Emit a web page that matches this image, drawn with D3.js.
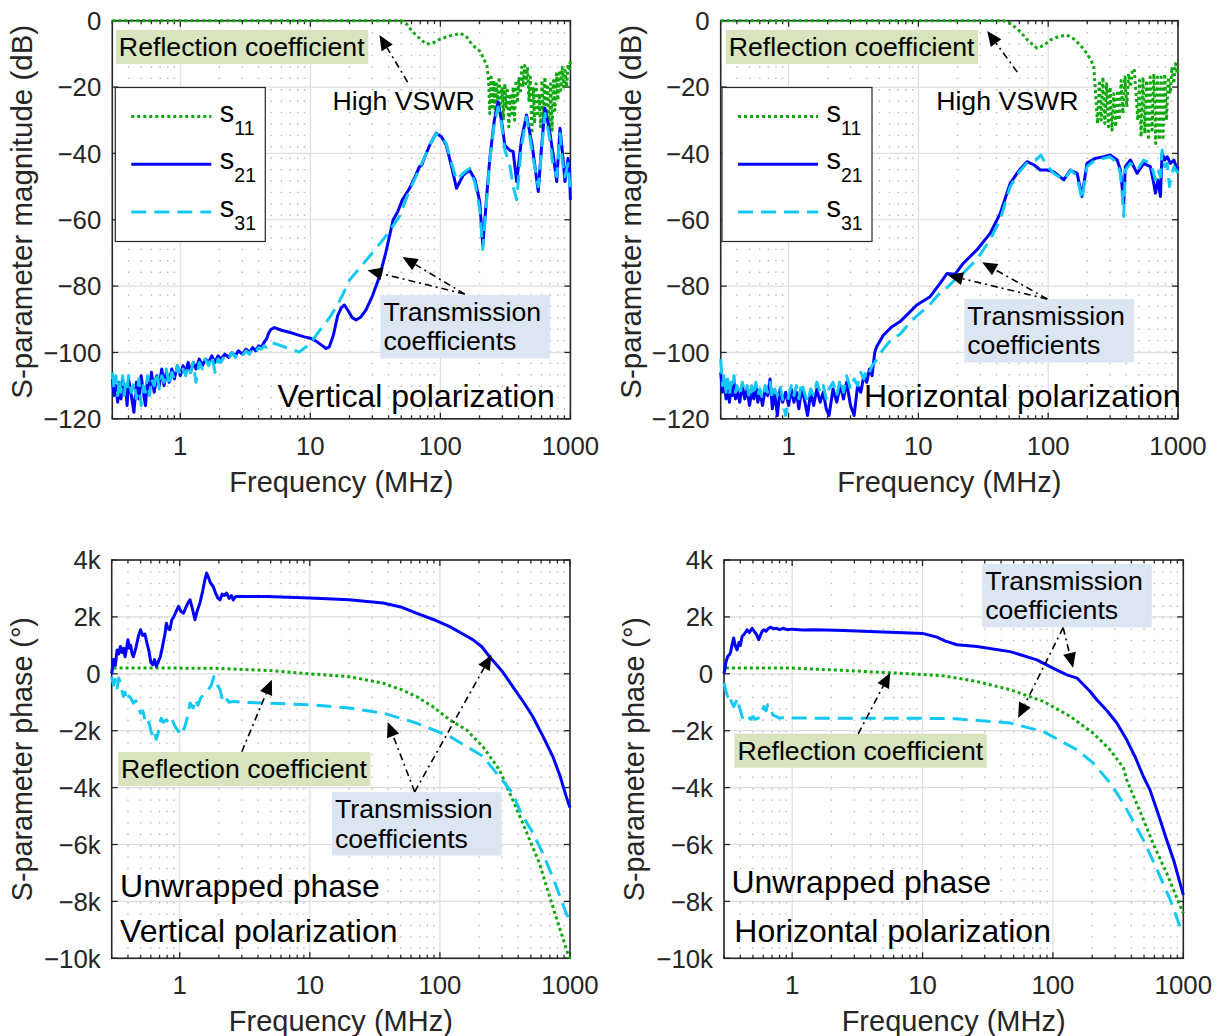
<!DOCTYPE html>
<html><head><meta charset="utf-8">
<script src="https://cdn.jsdelivr.net/npm/d3@7"></script>
<style>
body{margin:0;background:#fff}
svg{display:block;font-family:"Liberation Sans",Arial,Helvetica,sans-serif}
</style>
</head><body>
<svg id="c" width="1223" height="1036"></svg>
<script>
// ---------------- DATA ----------------
const freqTicks = [1, 10, 100, 1000];
const freqTickLabels = ["1", "10", "100", "1000"];
const magTicks = [0, -20, -40, -60, -80, -100, -120];
const magTickLabels = ["0", "\u221220", "\u221240", "\u221260", "\u221280", "\u2212100", "\u2212120"];
const phaseTicks = [4000, 2000, 0, -2000, -4000, -6000, -8000, -10000];
const phaseTickLabels = ["4k", "2k", "0", "\u22122k", "\u22124k", "\u22126k", "\u22128k", "\u221210k"];
const seriesNames = ["s11", "s21", "s31"];

// shared frequency grid (MHz) of the noisy low-frequency part of the magnitude plots
const noiseFreq = [0.30,0.31,0.32,0.33,0.34,0.35,0.36,0.37,0.38,0.39,0.40,
  0.42,0.44,0.46,0.48,0.50,0.52,0.54,0.56,0.58,0.60,
  0.63,0.66,0.69,0.72,0.75,0.78,
  0.82,0.86,0.90,0.95,
  1.0,1.05,1.1,1.15,1.2,1.26,1.32,1.4,1.48,1.56,1.65,1.75,1.85,1.95,
  2.05,2.2,2.35,2.5,2.65,2.8,
  3.0,3.2,3.4,3.6,3.8,4.0,4.2,4.4];

// Vertical polarization, magnitude (dB)
const vMagS21Noise = [-108,-113,-110,-115,-109,-114,-108,-112,-110,-116,-108,
  -113,-118,-109,-114,-107,-112,-116,-108,-111,-106,
  -112,-107,-110,-105,-110,-106,
  -109,-105,-108,-104,
  -107,-104,-106,-103,-106,-103,-105,-102,-104,-102,-103,-101,-103,-101,
  -102,-100.5,-101.5,-100,-101,-99.5,
  -100.5,-99,-100,-98.5,-99.5,-98,-98.5,-97];
const vMagS21Tail = [[4.6,-96],[4.8,-94],[5.0,-93],[5.3,-92.5],[6,-93.3],[7,-94],[8,-94.7],[9,-95.3],[10,-95.7],[11,-96.5],[12.2,-97.8],[13.2,-98.8],[14,-98.3],[15,-95],[16.2,-89],[17.3,-86.5],[18.3,-85.7],[19.6,-87.5],[21,-89.5],[22.5,-90.2],[24.5,-89.3],[26.8,-87.2],[30,-83],[34,-77.2],[38,-70],[43.3,-60.1],[47,-57.6],[51,-54],[58,-50.5],[64,-47],[69,-44],[72,-43.5],[76,-41],[84,-37],[93,-33.9],[102,-35],[111,-37.5],[122,-44],[133,-50.5],[150,-46.5],[168,-45],[185,-48],[201,-54.6],[212,-67.7],[225,-55],[240,-41.5],[260,-30],[278,-24.4],[295,-30],[313,-37.5],[340,-39],[363,-39.5],[386,-48.5],[420,-36],[460,-28.4],[510,-38],[566,-51.5],[600,-38],[637,-26.4],[690,-33],[738,-40.5],[785,-48.5],[832,-32.4],[870,-40],[908,-48.5],[959,-41.5],[985,-45],[1000,-54]];
const vMagS31Noise = [-106,-111,-107,-113,-108,-112,-107,-113,-109,-111,-107,
  -112,-109,-114,-108,-116,-110,-112,-107,-113,-108,
  -110,-106,-111,-107,-109,-105,
  -110,-106,-108,-104,
  -107,-105,-107,-104,-106,-103,-109,-103,-105,-102,-104,-101,-106,-102,
  -103,-101,-102,-100,-101.5,-100,
  -101,-99.5,-100.5,-99,-100,-98.5,-99,-98];
const vMagS31Tail = [[4.6,-98.5],[5.0,-97],[5.5,-97.5],[6.5,-98.5],[8.2,-99.9],[9.5,-98],[10.4,-96.3],[12,-93],[14,-89.6],[16,-86],[17.7,-82.7],[20,-78.2],[24,-74.5],[30,-70],[38,-65],[48.5,-59],[58,-51],[64,-47.5],[69,-44.5],[76,-41],[84,-37],[93,-34],[102,-35],[111,-37],[122,-43],[133,-48],[150,-46],[168,-44.5],[185,-49],[201,-57],[212,-69],[225,-56],[240,-42],[260,-31],[278,-26],[295,-31],[313,-39],[340,-43],[363,-50],[386,-54],[420,-38],[460,-29],[510,-40],[566,-50],[600,-39],[637,-28],[690,-35],[738,-44],[785,-47],[832,-34],[870,-43],[908,-47],[959,-43],[1000,-52]];
const vMagS11 = [[0.3,0],[50,0],[55,-1],[61,-3.3],[70,-5.5],[78,-7.1],[90,-6.5],[100,-5.5],[120,-4.5],[143,-3.8],[160,-5],[170,-6.5],[185,-8],[203,-9.3],[215,-11.5],[228,-13.4],
  [235,-18],[240,-28],[246,-17],[252,-26],[258,-18],[264,-28],[270,-19],[276,-24],[283,-17],[290,-25],[298,-20],[305,-30],[313,-19],[320,-26],[328,-21],[336,-32],[345,-22],[354,-28],[363,-20],[372,-30],[382,-18],[392,-24],[402,-17],[412,-22],[422,-14],[433,-20],[445,-13.5],[456,-19],[468,-14],[480,-24],[492,-17],[505,-34],[518,-20],[531,-31],[545,-19],[560,-28],[575,-22],[590,-32],[605,-18],[620,-30],[637,-17],[653,-28],[670,-20],[688,-35],[705,-19],[723,-33],[742,-18],[761,-27],[781,-16],[801,-24],[822,-15],[843,-21],[865,-14],[888,-20],[911,-15],[935,-20],[959,-13],[984,-15],[1000,-12]];

// Horizontal polarization, magnitude (dB)
const hMagS21Noise = [-106,-112,-109,-114,-110,-115,-111,-113,-109,-114,-111,
  -115,-110,-114,-111,-116,-112,-114,-110,-115,-112,
  -116,-111,-113,-108,-117,-112,
  -119,-111,-115,-112,
  -116,-111,-115,-112,-117,-111,-114,-119,-112,-116,-111,-115,-112,-117,
  -119,-111,-115,-110,-114,-109,
  -116,-119,-110,-112,-107,-109,-105,-107];
const hMagS21Tail = [[4.61,-100],[4.77,-98.3],[5.37,-94.8],[6.23,-92.3],[7.23,-90.7],[8.5,-88],[9.72,-85.7],[12.3,-83.2],[14.7,-79.2],[16.6,-76.2],[19.2,-76.4],[22.2,-73.1],[28.2,-69.1],[35.7,-64.1],[42.7,-58.1],[51,-49],[60,-45],[68.6,-42.5],[78,-43.5],[86.9,-45],[98,-45],[110,-45.5],[132,-48],[148,-45],[167,-46],[182,-53],[199,-43],[230,-41.5],[268,-41],[300,-40.5],[340,-42],[360,-45],[371,-50],[382,-55],[393,-44],[430,-42],[484,-46],[544,-43],[613,-44],[650,-49],[670,-52],[700,-48],[733,-53],[745,-45],[755,-40],[790,-42],[826,-41],[875,-43],[930,-42],[986,-45],[1000,-44]];
const hMagS31Noise = [-102,-110,-106,-112,-108,-113,-109,-111,-107,-112,-110,
  -113,-109,-112,-110,-114,-110,-113,-109,-113,-111,
  -114,-110,-112,-109,-114,-111,
  -113,-110,-114,-119,
  -113,-110,-113,-110,-114,-109,-112,-115,-111,-113,-109,-112,-110,-114,
  -111,-109,-113,-108,-112,-107,
  -111,-108,-110,-106,-108,-105,-106,-104];
const hMagS31Tail = [[4.61,-103],[5.37,-99],[6.23,-96],[7.23,-94.5],[8.6,-91],[9.72,-89],[12,-86],[14.7,-82],[16.6,-80.5],[19.2,-78],[22.2,-76],[28.2,-72],[35.7,-66],[42.7,-60],[51,-50],[60,-45.5],[70,-42.5],[80,-42],[88,-40.5],[95,-43],[110,-46],[132,-48],[150,-45],[167,-47],[182,-54],[199,-44],[230,-42],[268,-41.5],[300,-41],[340,-43],[360,-46],[371,-52],[382,-59],[393,-45],[430,-43],[484,-45],[544,-42],[613,-43],[650,-46],[670,-48],[700,-45],[733,-47],[755,-39],[790,-44],[826,-43],[860,-50],[875,-48],[930,-44],[1000,-46]];
const hMagS11 = [[0.3,0],[45,0],[52,-1],[61,-3.3],[70,-6],[82,-8.3],[92,-7.5],[104,-5.8],[120,-4.8],[139,-4.3],[158,-5.5],[176,-7.3],[200,-10],[224,-13.4],
  [232,-22],[240,-31],[248,-18],[256,-30],[264,-17],[273,-31],[282,-19],[291,-32],[300,-20],[310,-33],[320,-22],[331,-32],[342,-21],[353,-30],[365,-18],[377,-28],[390,-17],[403,-26],[416,-16],[430,-20],[445,-15],[460,-14.5],[475,-22],[490,-30],[505,-18],[520,-35],[537,-17],[555,-34],[573,-18],[592,-36],[611,-17],[631,-33],[652,-16],[673,-37],[695,-17],[718,-36],[741,-17],[765,-36],[790,-16],[815,-30],[842,-17],[870,-22],[898,-14],[927,-19],[957,-13],[988,-16],[1000,-14]];

// Vertical polarization, unwrapped phase (degrees)
const vPhS21 = [[0.30,0],[0.31,500],[0.32,300],[0.33,840],[0.34,700],[0.35,960],[0.36,750],[0.37,900],[0.38,600],[0.39,900],[0.40,1200],[0.41,900],[0.42,1000],[0.43,700],[0.44,600],[0.46,900],[0.48,1300],[0.50,1550],[0.52,1350],[0.54,1400],[0.56,1080],[0.58,800],[0.60,400],[0.62,320],[0.64,500],[0.66,260],[0.68,400],[0.71,600],[0.74,1000],[0.77,1400],[0.79,1780],[0.81,1600],[0.84,1550],[0.87,1900],[0.90,2000],[0.94,2200],[0.98,2370],[1.02,2200],[1.07,2130],[1.12,2350],[1.16,2500],[1.20,2600],[1.25,2300],[1.31,1900],[1.36,2200],[1.43,2490],[1.50,2900],[1.56,3300],[1.61,3540],[1.66,3400],[1.72,3200],[1.81,3070],[1.90,2800],[1.97,2650],[2.04,2600],[2.12,2800],[2.2,2750],[2.29,2840],[2.4,2650],[2.5,2750],[2.58,2600],[2.7,2720],[2.9,2720],[3.5,2720],[4.65,2720],[10,2660],[20,2600],[36.6,2490],[50,2350],[65.9,2130],[90,1900],[119,1660],[150,1400],[179,1200],[210,950],[241,600],[300,100],[363,-450],[440,-1000],[517,-1500],[620,-2200],[737,-2900],[840,-3600],[933,-4300],[1000,-4700]];
const vPhS11 = [[0.31,200],[1,200],[2,190],[4.65,120],[10,0],[20,-100],[36.6,-330],[50,-550],[66,-800],[88,-1150],[119,-1620],[160,-1970],[214,-2560],[287,-3380],[363,-4430],[433,-5250],[582,-6660],[737,-8180],[960,-9820],[1000,-10000]];
const vPhS31 = [[0.30,-100],[0.31,-400],[0.32,-200],[0.33,-500],[0.34,-150],[0.35,-300],[0.36,-600],[0.37,-800],[0.38,-650],[0.39,-900],[0.40,-750],[0.42,-850],[0.44,-1030],[0.46,-950],[0.48,-1200],[0.50,-1380],[0.52,-1300],[0.54,-1600],[0.56,-1800],[0.58,-1700],[0.60,-2000],[0.62,-2200],[0.64,-2050],[0.66,-2300],[0.68,-2100],[0.70,-1900],[0.72,-1560],[0.75,-1700],[0.79,-1620],[0.83,-1750],[0.87,-1600],[0.92,-1850],[0.98,-2030],[1.03,-1800],[1.08,-1950],[1.15,-1500],[1.20,-1030],[1.27,-1200],[1.32,-900],[1.38,-1100],[1.45,-850],[1.55,-700],[1.66,-560],[1.75,-400],[1.83,-100],[1.9,-300],[2.04,-560],[2.15,-970],[2.25,-850],[2.4,-1000],[2.58,-970],[3.0,-1000],[4.65,-1030],[10,-1090],[20,-1200],[36.6,-1380],[66,-1730],[119,-2200],[214,-2900],[363,-4200],[420,-4900],[520,-5600],[617,-6300],[760,-7300],[933,-8420],[1000,-8650]];

// Horizontal polarization, unwrapped phase (degrees)
const hPhS21 = [[0.30,0],[0.31,400],[0.32,600],[0.336,730],[0.345,1000],[0.356,1260],[0.365,1000],[0.378,840],[0.39,1100],[0.40,1000],[0.413,1310],[0.43,1400],[0.451,1550],[0.47,1450],[0.493,1600],[0.51,1500],[0.53,1400],[0.554,1200],[0.57,1350],[0.59,1500],[0.605,1550],[0.63,1500],[0.66,1600],[0.681,1640],[0.72,1580],[0.76,1600],[0.8,1550],[0.85,1600],[0.914,1550],[1.0,1570],[1.2,1540],[1.5,1550],[2.48,1520],[5,1470],[8.05,1430],[10,1420],[12.9,1290],[15,1150],[18.4,1020],[26.1,960],[47,780],[75.3,490],[100,200],[128,-40],[153,-150],[193,-620],[217,-910],[260,-1300],[309,-1730],[368,-2320],[430,-2950],[494,-3610],[555,-4080],[650,-5000],[746,-5840],[850,-6600],[944,-7360],[1000,-7770]];
const hPhS11 = [[0.31,200],[1,200],[2.48,120],[8.05,0],[14.5,-70],[26,-270],[47,-560],[84.5,-970],[136,-1500],[204,-2090],[275,-2680],[347,-3300],[368,-3730],[472,-4900],[600,-6070],[746,-7010],[1000,-8420]];
const hPhS31 = [[0.30,-330],[0.31,-600],[0.32,-800],[0.33,-700],[0.34,-950],[0.356,-1150],[0.37,-1000],[0.378,-860],[0.39,-1100],[0.40,-1270],[0.42,-1620],[0.44,-1550],[0.46,-1500],[0.48,-1600],[0.50,-1500],[0.52,-1600],[0.55,-1560],[0.58,-1400],[0.605,-1150],[0.63,-1300],[0.65,-1090],[0.68,-1200],[0.71,-1440],[0.75,-1500],[0.8,-1560],[0.9,-1520],[1.0,-1550],[1.5,-1560],[3,-1560],[8,-1560],[18,-1580],[47,-1730],[84.5,-2030],[153,-2670],[204,-3140],[275,-3840],[347,-4550],[494,-5840],[630,-6890],[795,-7950],[944,-8890],[1000,-9050]];

// ---------------- BUILD ----------------
const join = (freqs, vals, tail) => freqs.map((f, i) => [f, vals[i]]).concat(tail);
const vMagS21 = join(noiseFreq, vMagS21Noise, vMagS21Tail);
const vMagS31 = join(noiseFreq, vMagS31Noise, vMagS31Tail);
const hMagS21 = join(noiseFreq, hMagS21Noise, hMagS21Tail);
const hMagS31 = join(noiseFreq, hMagS31Noise, hMagS31Tail);

const COL = {s11: "#0ea80e", s21: "#0000ff", s31: "#14c8f6"};
const DASH = {s11: "3,3", s21: null, s31: "15,8"};
const AX = "#262626";
const ANN = 26.7;

const panels = [
  {L:112.3, R:570.4, T:20.7, B:418.8, kind:"mag", data:{s11:vMagS11, s21:vMagS21, s31:vMagS31},
   ylabel:"S-parameter magnitude (dB)", ylabelSize:29.5, ylabelShift:-8, legend:{x:115.3, y:87.5},
   boxes:[{lines:["Reflection coefficient"], f:0.337, v:-10.6, fill:"#d7e4bd", padR:3},
          {lines:["Transmission","coefficients"], f:36.5, v:-90.5, fill:"#dce6f2", padR:9}],
   texts:[{t:"High VSWR", f:14.8, v:-26.9, size:ANN, anchor:"start"},
          {t:"Vertical polarization", f:760, v:-116.5, size:32, anchor:"end"}],
   arrows:[{f0:56, v0:-18.5, f1:34, v1:-4.3},
           {f0:154, v0:-82.4, f1:27.5, v1:-75.2},
           {f0:154, v0:-82.4, f1:51.2, v1:-71.2}]},
  {L:720.7, R:1178, T:20.7, B:418.8, kind:"mag", data:{s11:hMagS11, s21:hMagS21, s31:hMagS31},
   ylabel:"S-parameter magnitude (dB)", ylabelSize:29.5, ylabelShift:-8, legend:{x:722, y:87.5},
   boxes:[{lines:["Reflection coefficient"], f:0.346, v:-10.6, fill:"#d7e4bd", padR:3},
          {lines:["Transmission","coefficients"], f:23.8, v:-91.7, fill:"#dce6f2", padR:9}],
   texts:[{t:"High VSWR", f:13.7, v:-26.9, size:ANN, anchor:"start"},
          {t:"Horizontal polarization", f:3.81, v:-116.5, size:32, anchor:"start"}],
   arrows:[{f0:57.8, v0:-15.5, f1:33.9, v1:-3.1},
           {f0:98.4, v0:-83.9, f1:16.9, v1:-76.7},
           {f0:98.4, v0:-83.9, f1:31.0, v1:-72.8}]},
  {L:111.7, R:570, T:560, B:958.3, kind:"phase", data:{s11:vPhS11, s21:vPhS21, s31:vPhS31},
   ylabel:"S-parameter phase (\u00b0)", ylabelSize:28.7, ylabelShift:0,
   boxes:[{lines:["Reflection coefficient"], f:0.354, v:-3660, fill:"#d7e4bd", padR:3},
          {lines:["Transmission","coefficients"], f:15.6, v:-5070, fill:"#dce6f2", padR:9}],
   texts:[{t:"Unwrapped phase", f:0.348, v:-7830, size:32, anchor:"start"},
          {t:"Vertical polarization", f:0.348, v:-9420, size:32, anchor:"start"}],
   arrows:[{f0:3.0, v0:-2740, f1:5.11, v1:-210},
           {f0:64, v0:-4150, f1:39.7, v1:-1690},
           {f0:64, v0:-4150, f1:249, v1:670}]},
  {L:724, R:1183.3, T:560, B:958.3, kind:"phase", data:{s11:hPhS11, s21:hPhS21, s31:hPhS31},
   ylabel:"S-parameter phase (\u00b0)", ylabelSize:28.7, ylabelShift:0,
   boxes:[{lines:["Transmission","coefficients"], f:30.2, v:2950, fill:"#dce6f2", padR:9},
          {lines:["Reflection coefficient"], f:0.38, v:-3020, fill:"#d7e4bd", padR:3}],
   texts:[{t:"Unwrapped phase", f:0.342, v:-7700, size:32, anchor:"start"},
          {t:"Horizontal polarization", f:0.36, v:-9420, size:32, anchor:"start"}],
   arrows:[{f0:119.8, v0:1620, f1:142.8, v1:210},
           {f0:119.8, v0:1620, f1:54.1, v1:-1550},
           {f0:3.21, v0:-2110, f1:5.65, v1:35}]}
];

const svg = d3.select("#c");
const minorFreqs = [];
[0.1, 1, 10, 100].forEach(d => { for (let k = 2; k <= 9; k++) { const f = d * k; if (f >= 0.3 && f < 1000) minorFreqs.push(f); } });

panels.forEach((p, pi) => {
  const x = d3.scaleLog().domain([0.3, 1000]).range([p.L, p.R]);
  const y = d3.scaleLinear().domain(p.kind === "mag" ? [-120, 0] : [-10000, 4000]).range([p.B, p.T]);
  const yt = p.kind === "mag" ? magTicks : phaseTicks;
  const ytl = p.kind === "mag" ? magTickLabels : phaseTickLabels;
  const g = svg.append("g");

  // grid
  const grid = g.append("g");
  minorFreqs.forEach(f => grid.append("line").attr("x1", x(f)).attr("x2", x(f)).attr("y1", p.T).attr("y2", p.B)
    .attr("stroke", "#b8b8b8").attr("stroke-width", 1.4).attr("stroke-dasharray", "1.4,10"));
  yt.forEach(v => grid.append("line").attr("x1", p.L).attr("x2", p.R).attr("y1", y(v)).attr("y2", y(v))
    .attr("stroke", "#dddddd").attr("stroke-width", 1.2));
  freqTicks.slice(0, 3).forEach(f => grid.append("line").attr("x1", x(f)).attr("x2", x(f)).attr("y1", p.T).attr("y2", p.B)
    .attr("stroke", "#dddddd").attr("stroke-width", 1.2));

  // frame + ticks
  g.append("rect").attr("x", p.L).attr("y", p.T).attr("width", p.R - p.L).attr("height", p.B - p.T)
    .attr("fill", "none").attr("stroke", AX).attr("stroke-width", 1.6);
  const tk = g.append("g").attr("stroke", AX).attr("stroke-width", 1.3);
  yt.forEach(v => {
    tk.append("line").attr("x1", p.L).attr("x2", p.L + 6).attr("y1", y(v)).attr("y2", y(v));
    tk.append("line").attr("x1", p.R - 6).attr("x2", p.R).attr("y1", y(v)).attr("y2", y(v));
  });
  freqTicks.forEach(f => {
    tk.append("line").attr("x1", x(f)).attr("x2", x(f)).attr("y1", p.B).attr("y2", p.B - 6);
    tk.append("line").attr("x1", x(f)).attr("x2", x(f)).attr("y1", p.T).attr("y2", p.T + 6);
  });
  minorFreqs.forEach(f => {
    tk.append("line").attr("x1", x(f)).attr("x2", x(f)).attr("y1", p.B).attr("y2", p.B - 3.5);
    tk.append("line").attr("x1", x(f)).attr("x2", x(f)).attr("y1", p.T).attr("y2", p.T + 3.5);
  });

  // tick labels
  yt.forEach((v, i) => g.append("text").attr("x", p.L - 11).attr("y", y(v)).attr("dy", "0.36em")
    .attr("text-anchor", "end").attr("fill", AX).style("font-size", "25.8px").text(ytl[i]));
  freqTicks.forEach((f, i) => g.append("text").attr("x", x(f)).attr("y", p.B + 36)
    .attr("text-anchor", "middle").attr("fill", AX).style("font-size", "25.8px").text(freqTickLabels[i]));
  g.append("text").attr("x", (p.L + p.R) / 2).attr("y", p.B + 73).attr("text-anchor", "middle")
    .attr("fill", AX).style("font-size", "29px").text("Frequency (MHz)");
  g.append("text").attr("transform", `translate(${p.L - 80},${(p.T + p.B) / 2 + p.ylabelShift}) rotate(-90)`)
    .attr("text-anchor", "middle").attr("fill", AX).style("font-size", p.ylabelSize + "px").text(p.ylabel);

  // data
  const clipId = "clip" + pi;
  svg.append("clipPath").attr("id", clipId).append("rect")
    .attr("x", p.L - 2).attr("y", p.T - 4).attr("width", p.R - p.L + 4).attr("height", p.B - p.T + 6);
  const line = d3.line().x(d => x(d[0])).y(d => y(d[1]));
  const dg = g.append("g").attr("clip-path", `url(#${clipId})`);
  seriesNames.forEach(s => {
    dg.append("path").attr("d", line(p.data[s])).attr("fill", "none").attr("stroke", COL[s])
      .attr("stroke-width", 3).attr("stroke-linejoin", "round")
      .attr("stroke-dasharray", DASH[s]);
  });

  // annotation boxes
  p.boxes.forEach(b => {
    const bg = g.append("g");
    const t = bg.append("text").attr("x", x(b.f)).attr("y", y(b.v)).attr("fill", "#000").style("font-size", ANN + "px");
    b.lines.forEach((s, i) => t.append("tspan").attr("x", x(b.f)).attr("dy", i ? 29.5 : 0).text(s));
    const bb = t.node().getBBox();
    bg.insert("rect", "text").attr("x", bb.x - 3).attr("y", bb.y - 2).attr("width", bb.width + 3 + b.padR)
      .attr("height", bb.height + 4).attr("fill", b.fill);
  });
  p.texts.forEach(tx => g.append("text").attr("x", x(tx.f)).attr("y", y(tx.v)).attr("text-anchor", tx.anchor)
    .attr("fill", "#000").style("font-size", tx.size + "px").text(tx.t));

  // arrows
  p.arrows.forEach(a => {
    const x0 = x(a.f0), y0 = y(a.v0), x1 = x(a.f1), y1 = y(a.v1);
    const dx = x1 - x0, dy = y1 - y0, len = Math.hypot(dx, dy), ux = dx / len, uy = dy / len;
    const hl = 15, hw = 6.5;
    const bx = x1 - ux * hl, by = y1 - uy * hl;
    g.append("line").attr("x1", x0).attr("y1", y0).attr("x2", bx).attr("y2", by)
      .attr("stroke", "#000").attr("stroke-width", 1.6).attr("stroke-dasharray", "7,4,2,4");
    g.append("path").attr("d", `M${x1},${y1}L${bx - uy * hw},${by + ux * hw}L${bx + uy * hw},${by - ux * hw}Z`)
      .attr("fill", "#000");
  });

  // legend
  if (p.legend) {
    const lg = g.append("g");
    const bx = p.legend.x, by = p.legend.y;
    lg.append("rect").attr("x", bx).attr("y", by).attr("width", 150).attr("height", 154)
      .attr("fill", "#fff").attr("stroke", AX).attr("stroke-width", 1.2);
    seriesNames.forEach((s, i) => {
      const ly = by + 29 + i * 47.8;
      lg.append("line").attr("x1", bx + 16).attr("x2", bx + 96).attr("y1", ly).attr("y2", ly)
        .attr("stroke", COL[s]).attr("stroke-width", 3).attr("stroke-dasharray", DASH[s]);
      const t = lg.append("text").attr("x", bx + 104.5).attr("y", ly + 5).attr("fill", "#000").style("font-size", "29px");
      t.append("tspan").text("s");
      t.append("tspan").attr("dy", 13).style("font-size", "19.5px").text(s.slice(1));
    });
  }
});
</script>
</body></html>
